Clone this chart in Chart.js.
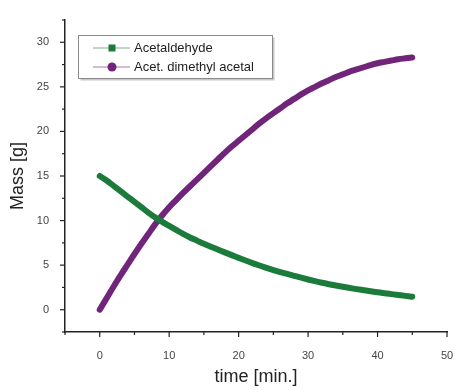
<!DOCTYPE html>
<html>
<head>
<meta charset="utf-8">
<script src="https://cdn.jsdelivr.net/npm/chart.js@4.4.0/dist/chart.umd.min.js"></script>
<style>
  html, body { margin: 0; padding: 0; background: #fff; }
  #wrap { width: 471px; height: 390px; }
</style>
</head>
<body>
<div id="wrap"><canvas id="grafico" width="471" height="390"></canvas></div>
<script>
// tempo em minutos
const tempo = [0, 1, 2, 3, 4, 5, 6, 7, 8, 9, 10, 11, 12, 13, 14, 15, 16, 17, 18, 19, 20, 21, 22,
    23, 24, 25, 26, 27, 28, 29, 30, 31, 32, 33, 34, 35, 36, 37, 38, 39, 40, 41, 42, 43, 44, 45];

// massa [g]
const acetaldeido = [15.0, 14.5, 13.9, 13.3, 12.7, 12.1, 11.5, 10.9, 10.35, 9.85, 9.4, 8.95, 8.5,
    8.1, 7.75, 7.4, 7.07, 6.75, 6.43, 6.12, 5.82, 5.52, 5.23, 4.96, 4.7, 4.45, 4.22, 4.01, 3.8,
    3.59, 3.39, 3.2, 3.02, 2.86, 2.71, 2.57, 2.44, 2.31, 2.19, 2.07, 1.96, 1.85, 1.75, 1.65, 1.55, 1.46];

const acetal = [0.0, 1.3, 2.6, 3.85, 5.05, 6.25, 7.4, 8.5, 9.6, 10.6, 11.5, 12.3, 13.1, 13.85,
    14.6, 15.35, 16.1, 16.85, 17.6, 18.3, 18.95, 19.6, 20.25, 20.9, 21.5, 22.05, 22.6, 23.15, 23.65,
    24.15, 24.6, 25.0, 25.4, 25.75, 26.1, 26.4, 26.7, 26.95, 27.2, 27.45, 27.65, 27.8, 27.95, 28.1,
    28.2, 28.3];

const nomes = ['Acetaldehyde', 'Acet. dimethyl acetal'];
const cores = ['#1b7b3a', '#70247a'];

const fonte = "'Liberation Sans', Arial, sans-serif";

function pontos(ys) {
    return tempo.map((t, i) => ({ x: t, y: ys[i] }));
}

// marcas dos eixos (maiores e menores)
const marcas = {
    id: 'marcas',
    afterDraw(chart) {
        const ctx = chart.ctx;
        const x = chart.scales.x, y = chart.scales.y;
        ctx.save();
        ctx.strokeStyle = '#222';
        ctx.lineWidth = 1.2;
        x.ticks.forEach(t => {
            const px = x.getPixelForValue(t.value);
            const len = (t.value % 10 === 0) ? 5 : 3;
            ctx.beginPath();
            ctx.moveTo(px, x.top);
            ctx.lineTo(px, x.top + len);
            ctx.stroke();
        });
        y.ticks.forEach(t => {
            const py = y.getPixelForValue(t.value);
            const len = (t.value % 5 === 0) ? 5 : 3;
            ctx.beginPath();
            ctx.moveTo(y.right, py);
            ctx.lineTo(y.right - len, py);
            ctx.stroke();
        });
        ctx.restore();
    }
};

// legenda dentro da area do grafico
const legenda = {
    id: 'legenda',
    afterDraw(chart) {
        const ctx = chart.ctx;
        const bx = 78.5, by = 35.5, bw = 194, bh = 43;
        ctx.save();
        ctx.fillStyle = '#c8c8c8';
        ctx.fillRect(bx + 2, by + 2, bw, bh);
        ctx.fillStyle = '#fff';
        ctx.fillRect(bx, by, bw, bh);
        ctx.strokeStyle = '#8a8a8a';
        ctx.lineWidth = 1;
        ctx.strokeRect(bx, by, bw, bh);

        ctx.font = '13px ' + fonte;
        ctx.textBaseline = 'middle';
        chart.data.datasets.forEach((ds, i) => {
            const ly = 48 + i * 19;
            ctx.strokeStyle = ds.borderColor;
            ctx.globalAlpha = 0.6;
            ctx.lineWidth = 1;
            ctx.beginPath();
            ctx.moveTo(93, ly);
            ctx.lineTo(130, ly);
            ctx.stroke();
            ctx.globalAlpha = 1;
            ctx.fillStyle = ds.borderColor;
            if (i === 0) {
                ctx.fillRect(108.5, ly - 3.5, 7, 7);
            } else {
                ctx.beginPath();
                ctx.arc(112, ly, 4.5, 0, Math.PI * 2);
                ctx.fill();
            }
            ctx.fillStyle = '#222';
            ctx.fillText(ds.label, 134, ly + 0.5);
        });
        ctx.restore();
    }
};

const ctx = document.getElementById('grafico').getContext('2d');
new Chart(ctx, {
    type: 'line',
    data: {
        datasets: [
            {
                label: nomes[0],
                data: pontos(acetaldeido),
                borderColor: cores[0],
                borderWidth: 6,
                borderCapStyle: 'round',
                borderJoinStyle: 'round',
                pointRadius: 0,
                cubicInterpolationMode: 'monotone'
            },
            {
                label: nomes[1],
                data: pontos(acetal),
                borderColor: cores[1],
                borderWidth: 6,
                borderCapStyle: 'round',
                borderJoinStyle: 'round',
                pointRadius: 0,
                cubicInterpolationMode: 'monotone'
            }
        ]
    },
    options: {
        responsive: false,
        animation: false,
        layout: { padding: { left: 0, top: 20, right: 24, bottom: 0 } },
        plugins: {
            legend: { display: false },
            tooltip: { enabled: false }
        },
        scales: {
            x: {
                type: 'linear',
                min: -5,
                max: 50,
                afterFit(scale) { scale.height = 58; },
                grid: { display: false },
                border: { display: true, color: '#222', width: 1.5 },
                ticks: {
                    stepSize: 5,
                    maxRotation: 0,
                    autoSkip: false,
                    padding: 9,
                    color: '#444',
                    font: { family: fonte, size: 11 },
                    callback: v => (v >= 0 && v % 10 === 0) ? String(v) : ''
                },
                title: {
                    display: true,
                    text: 'time [min.]',
                    color: '#222',
                    font: { family: fonte, size: 18 },
                    padding: { top: 0, bottom: 2 }
                }
            },
            y: {
                min: -2.5,
                max: 32.5,
                afterFit(scale) { scale.width = 65; },
                grid: { display: false },
                border: { display: true, color: '#222', width: 1.5 },
                ticks: {
                    stepSize: 2.5,
                    autoSkip: false,
                    padding: 8,
                    color: '#444',
                    font: { family: fonte, size: 11 },
                    callback: v => (v >= 0 && v % 5 === 0) ? String(v) : ''
                },
                title: {
                    display: true,
                    text: 'Mass [g]',
                    color: '#222',
                    font: { family: fonte, size: 18 },
                    padding: { top: 7, bottom: 0 }
                }
            }
        }
    },
    plugins: [marcas, legenda]
});
</script>
</body>
</html>
